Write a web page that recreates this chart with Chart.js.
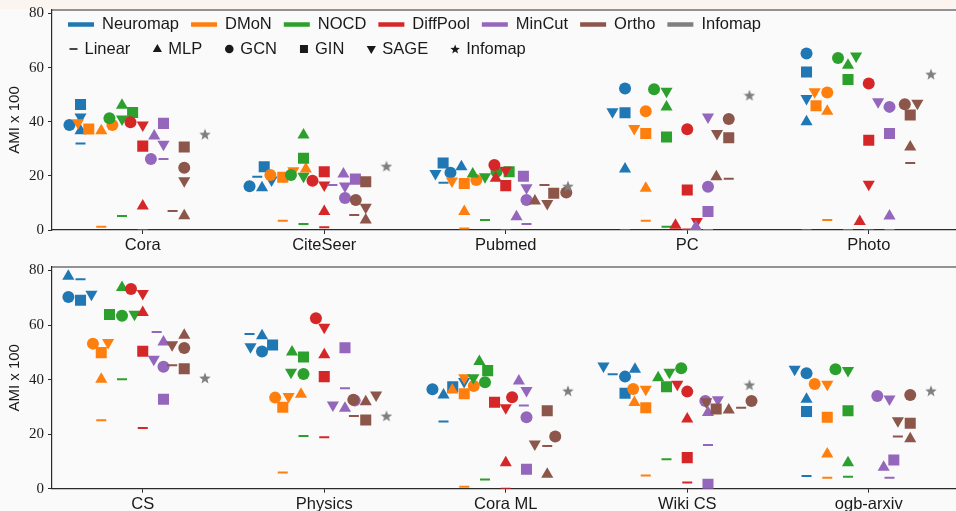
<!DOCTYPE html>
<html>
<head>
<meta charset="utf-8">
<script src="https://cdn.jsdelivr.net/npm/chart.js@4.4.1/dist/chart.umd.min.js"></script>
<style>
  html, body { margin: 0; padding: 0; background: #fafafa; width: 956px; height: 511px; overflow: hidden; }
  #strip { position: absolute; left: 0; top: 0; width: 956px; height: 9px; background: #fcf4ee; }
  .box { position: absolute; left: 0; width: 956px; overflow: hidden; }
  #topBox { top: 0; height: 256px; }
  #botBox { top: 256px; height: 255px; }
</style>
</head>
<body>
<div id="strip"></div>
<div class="box" id="topBox"><canvas id="topChart" width="962" height="256"></canvas></div>
<div class="box" id="botBox"><canvas id="botChart" width="962" height="255"></canvas></div>
<script>
// ---- data (AMI x 100), each row = [Linear, MLP, GCN, GIN, SAGE] ----
const methods = ['Neuromap', 'DMoN', 'NOCD', 'DiffPool', 'MinCut', 'Ortho'];
const variants = ['Linear', 'MLP', 'GCN', 'GIN', 'SAGE'];
const colors = ['#1f77b4', '#ff7f0e', '#2ca02c', '#d62728', '#9467bd', '#8c564b'];
const infomapColor = '#7f7f7f';

const topCats = ['Cora', 'CiteSeer', 'Pubmed', 'PC', 'Photo'];
const topNeuromap = [[32.0, 36.7, 38.8, 46.4, 41.8], [19.7, 15.6, 16.2, 23.4, 18.5], [17.5, 23.4, 21.2, 24.8, 20.9], [0.0, 22.5, 52.3, 43.3, 43.7], [0.0, 40.0, 65.2, 58.4, 48.6]];
const topDMoN = [[1.2, 36.7, 38.8, 37.3, 39.6], [3.4, 22.5, 20.3, 19.5, 21.9], [0.6, 6.8, 18.5, 17.2, 18.1], [3.4, 15.4, 43.9, 35.7, 37.5], [3.7, 43.9, 50.8, 45.9, 51.1]];
const topNOCD = [[5.2, 46.1, 41.3, 43.4, 41.0], [2.2, 35.1, 20.3, 26.5, 19.9], [3.7, 20.7, 21.5, 21.5, 19.7], [1.2, 45.5, 52.0, 34.4, 51.3], [0.0, 60.9, 63.6, 55.6, 64.3]];
const topDiffPool = [[0.0, 8.9, 39.8, 31.0, 38.8], [1.0, 6.8, 18.2, 21.5, 16.6], [0.0, 19.1, 24.0, 16.4, 22.1], [0.2, 1.8, 37.2, 14.8, 3.1], [0.0, 3.1, 54.1, 33.2, 16.9]];
const topMinCut = [[26.2, 34.7, 26.2, 39.4, 31.7], [16.6, 20.7, 11.8, 18.8, 16.3], [2.2, 4.9, 11.1, 19.9, 15.6], [0.0, 1.2, 16.0, 6.8, 41.8], [0.0, 5.2, 45.5, 35.7, 47.4]];
const topOrtho = [[7.0, 5.3, 23.0, 30.7, 18.2], [5.5, 3.7, 11.1, 17.8, 8.4], [16.6, 10.7, 13.9, 13.6, 9.8], [18.9, 19.7, 41.0, 34.1, 35.7], [24.8, 30.7, 46.5, 42.5, 46.8]];
const topInfomap = [35.4, 23.6, 16.2, 49.8, 57.6];

const botCats = ['CS', 'Physics', 'Cora ML', 'Wiki CS', 'ogb-arxiv'];
const botNeuromap = [[76.8, 77.9, 70.3, 69.1, 71.3], [56.7, 56.1, 50.3, 52.7, 52.1], [24.6, 34.4, 36.5, 37.4, 39.3], [42.0, 43.8, 41.1, 35.0, 45.0], [4.7, 32.8, 42.3, 28.3, 43.8]];
const botDMoN = [[25.1, 40.1, 53.2, 49.9, 53.6], [5.9, 34.6, 33.4, 29.9, 33.8], [0.7, 36.2, 37.7, 34.8, 40.7], [4.8, 31.6, 36.6, 29.7, 36.5], [4.0, 12.7, 38.4, 26.2, 38.3]];
const botNOCD = [[40.1, 73.8, 63.4, 63.9, 64.0], [19.3, 50.1, 42.1, 48.3, 42.7], [3.4, 46.6, 39.0, 43.3, 40.7], [10.8, 40.7, 44.2, 37.4, 42.7], [4.4, 9.5, 43.8, 28.6, 43.3]];
const botDiffPool = [[22.3, 64.6, 73.2, 50.4, 71.6], [18.9, 49.1, 62.5, 41.1, 59.2], [0.0, 9.5, 33.5, 31.7, 29.7], [2.3, 25.6, 35.6, 11.4, 38.3], [null, null, null, null, null]];
const botMinCut = [[57.5, 53.8, 44.7, 32.8, 47.5], [36.8, 29.5, 32.3, 51.7, 30.7], [30.5, 39.5, 26.2, 7.1, 36.0], [16.0, 27.9, 32.2, 1.6, 32.6], [4.0, 7.9, 34.0, 10.5, 32.9]];
const botOrtho = [[45.3, 56.3, 51.6, 44.0, 52.8], [26.7, 31.9, 32.6, 25.2, 34.4], [15.7, 5.3, 19.1, 28.6, 16.4], [29.7, 28.9, 32.2, 29.2, 31.9], [19.1, 18.3, 34.4, 24.0, 24.9]];
const botInfomap = [40.6, 26.7, 35.9, 38.1, 35.9];

const yTicks = [0, 20, 40, 60, 80];
const yMax = 81.3;

// ---- layout helpers ----
const PX_PER_CAT = 181.5;
const DIAM = 12;
const SANS = '"Liberation Sans", Arial, sans-serif';
const SERIF = '"Liberation Serif", "DejaVu Serif", serif';
const INK = '#1a1a1a';

// seaborn-like beeswarm within one method group, offsets in px
function swarm(vals, pxY) {
  const order = vals.map((v, i) => i).filter(i => vals[i] != null)
    .sort((a, b) => vals[a] - vals[b] || a - b);
  const placed = [];
  const out = vals.map(() => 0);
  for (const i of order) {
    const y = vals[i] * pxY;
    const near = placed.filter(p => Math.abs(p.y - y) < DIAM);
    const cands = [0];
    near.forEach(p => {
      const dx = Math.sqrt(DIAM * DIAM - (p.y - y) ** 2) * 1.05;
      cands.push(p.x - dx, p.x + dx);
    });
    cands.sort((a, b) => Math.abs(a) - Math.abs(b) || a - b);
    const x = cands.find(c => near.every(p => Math.hypot(p.x - c, p.y - y) >= DIAM - 0.01));
    placed.push({ x, y });
    out[i] = x;
  }
  return out;
}

function markerStyle(k, color) {
  switch (k) {
    case 0: return { pointStyle: 'line', pointRadius: 5, pointBorderWidth: 2, pointBorderColor: color, pointBackgroundColor: color };
    case 1: return { pointStyle: 'triangle', pointRadius: 7, pointBorderWidth: 0, pointBackgroundColor: color };
    case 2: return { pointStyle: 'circle', pointRadius: 6, pointBorderWidth: 0, pointBackgroundColor: color };
    case 3: return { pointStyle: 'rect', pointRadius: 7.8, pointBorderWidth: 0, pointBackgroundColor: color };
    default: return { pointStyle: 'triangle', rotation: 180, pointRadius: 7, pointBorderWidth: 0, pointBackgroundColor: color };
  }
}

function starPath(ctx, cx, cy, r) {
  ctx.beginPath();
  for (let i = 0; i < 10; i++) {
    const rad = i % 2 ? r * 0.42 : r;
    const a = -Math.PI / 2 + i * Math.PI / 5;
    ctx.lineTo(cx + Math.cos(a) * rad, cy + Math.sin(a) * rad);
  }
  ctx.closePath();
}

function makeStar(size, color) {
  const c = document.createElement('canvas');
  c.width = size; c.height = size;
  const g = c.getContext('2d');
  g.fillStyle = color;
  starPath(g, size / 2, size / 2 + 0.6, size / 2);
  g.fill();
  return c;
}
const starImg = makeStar(12, infomapColor);

function buildDatasets(groups, infomap, pxY) {
  const step = 0.8 / 7;
  const ds = [];
  groups.forEach((rows, m) => {
    const pts = variants.map(() => []);
    rows.forEach((vals, c) => {
      const off = swarm(vals, pxY);
      vals.forEach((v, k) => {
        if (v == null) return;
        pts[k].push({ x: c + (m - 3) * step + off[k] / PX_PER_CAT, y: v });
      });
    });
    variants.forEach((name, k) => {
      ds.push(Object.assign({ label: methods[m] + ' ' + name, data: pts[k] }, markerStyle(k, colors[m])));
    });
  });
  ds.push({
    label: 'Infomap',
    data: infomap.map((v, c) => ({ x: c + 3 * step, y: v })),
    pointStyle: starImg, pointRadius: 6
  });
  // later methods on top, like matplotlib
  ds.forEach((d, i) => { d.order = ds.length - i; d.pointHoverRadius = d.pointRadius; });
  return ds;
}

// ---- plugins ----
const frame = {
  id: 'frame',
  afterDraw(chart) {
    const { ctx, chartArea: a } = chart;
    ctx.save();
    ctx.strokeStyle = '#2b2b2b';
    ctx.lineWidth = 1.2;
    ctx.beginPath();
    ctx.moveTo(a.left, a.top);
    ctx.lineTo(a.right, a.top);
    ctx.lineTo(a.right, a.bottom);
    ctx.stroke();
    ctx.restore();
  }
};

function drawSmallMarker(ctx, k, x, y) {
  ctx.beginPath();
  if (k === 0) {
    ctx.lineWidth = 1.6;
    ctx.moveTo(x - 4, y); ctx.lineTo(x + 4, y); ctx.stroke();
    return;
  }
  if (k === 1) { ctx.moveTo(x, y - 5); ctx.lineTo(x + 4.6, y + 3); ctx.lineTo(x - 4.6, y + 3); }
  else if (k === 2) { ctx.arc(x, y, 4.3, 0, Math.PI * 2); }
  else if (k === 3) { ctx.rect(x - 4, y - 4, 8, 8); }
  else if (k === 4) { ctx.moveTo(x, y + 5); ctx.lineTo(x + 4.6, y - 3); ctx.lineTo(x - 4.6, y - 3); }
  else { starPath(ctx, x, y + 0.5, 5); }
  ctx.closePath();
  ctx.fill();
}

const legend = {
  id: 'customLegend',
  afterDraw(chart) {
    const ctx = chart.ctx;
    ctx.save();
    ctx.font = '16.5px ' + SANS;
    ctx.textBaseline = 'middle';
    ctx.fillStyle = INK;
    // row 1: methods as line swatches
    let x = 68;
    const y1 = 24.5;
    const names = methods.concat(['Infomap']);
    const cols = colors.concat([infomapColor]);
    names.forEach((n, i) => {
      ctx.strokeStyle = cols[i];
      ctx.lineWidth = 4.5;
      ctx.beginPath();
      ctx.moveTo(x, y1); ctx.lineTo(x + 26, y1); ctx.stroke();
      ctx.fillStyle = INK;
      ctx.fillText(n, x + 34, y1);
      x += 34 + ctx.measureText(n).width + 12;
    });
    // row 2: encoders as black markers
    x = 73.5;
    const y2 = 49;
    const labels2 = variants.concat(['Infomap']);
    ctx.fillStyle = INK;
    ctx.strokeStyle = INK;
    labels2.forEach((n, k) => {
      drawSmallMarker(ctx, k, x, y2);
      ctx.fillText(n, x + 11, y2);
      x += 11 + ctx.measureText(n).width + 27;
    });
    ctx.restore();
  }
};

function makeChart(id, cats, groups, infomap, opts) {
  const pxY = opts.plotHeight / yMax;
  return new Chart(document.getElementById(id), {
    type: 'scatter',
    data: { datasets: buildDatasets(groups, infomap, pxY) },
    options: {
      responsive: false,
      animation: false,
      devicePixelRatio: 1,
      events: [],
      layout: { autoPadding: false, padding: { top: opts.top, right: 2.5, left: 0, bottom: 0 } },
      plugins: { legend: { display: false }, tooltip: { enabled: false } },
      scales: {
        x: {
          type: 'linear', min: -0.5, max: 4.5,
          afterBuildTicks: s => { s.ticks = cats.map((_, i) => ({ value: i })); },
          afterFit: s => { s.height = opts.xHeight; s.paddingLeft = 0; s.paddingRight = 0; },
          ticks: { autoSkip: false, maxRotation: 0, padding: 2, color: INK, font: { family: SANS, size: 16.5 }, callback: v => cats[v] },
          grid: { drawOnChartArea: false, tickLength: 4, color: '#2b2b2b', tickWidth: 1 },
          border: { color: '#2b2b2b', width: 1.2 }
        },
        y: {
          min: 0, max: yMax,
          afterBuildTicks: s => { s.ticks = yTicks.map(v => ({ value: v })); },
          afterFit: s => { s.width = 52; s.paddingTop = 0; s.paddingBottom = 0; },
          ticks: { padding: 4, color: INK, font: { family: SERIF, size: 15 } },
          grid: { drawOnChartArea: false, tickLength: 4, color: '#2b2b2b', tickWidth: 1 },
          border: { color: '#2b2b2b', width: 1.2 },
          title: { display: true, text: 'AMI x 100', color: INK, font: { family: SANS, size: 15 }, padding: { top: 6, bottom: 0 } }
        }
      }
    },
    plugins: opts.legend ? [frame, legend] : [frame]
  });
}

makeChart('topChart', topCats,
  [topNeuromap, topDMoN, topNOCD, topDiffPool, topMinCut, topOrtho], topInfomap,
  { top: 10, xHeight: 26, plotHeight: 220, legend: true });

makeChart('botChart', botCats,
  [botNeuromap, botDMoN, botNOCD, botDiffPool, botMinCut, botOrtho], botInfomap,
  { top: 11, xHeight: 22.3, plotHeight: 221.7, legend: false });
</script>
</body>
</html>
